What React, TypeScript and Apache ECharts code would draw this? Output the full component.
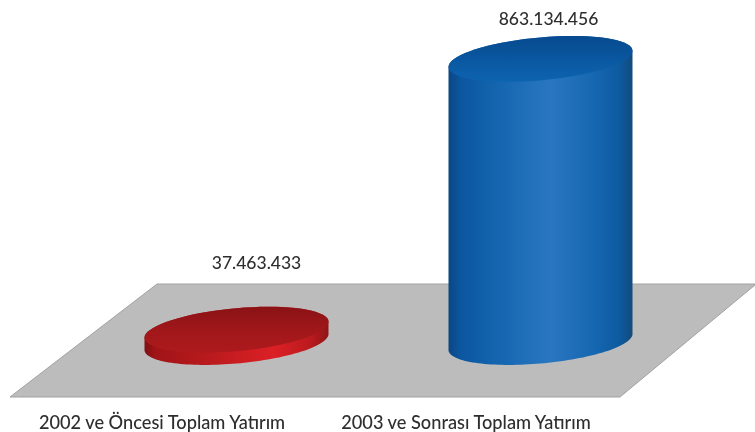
import React, { useEffect, useRef } from "react";
import * as echarts from "echarts";

const categories = ["2002 ve Öncesi Toplam Yatırım", "2003 ve Sonrası Toplam Yatırım"];
const values = [37463433, 863134456];
const valueLabels = ["37.463.433", "863.134.456"];
const sideStops = [
  [
    [0, "#7e1013"], [0.06, "#a01417"], [0.35, "#b91a1d"], [0.7, "#dc2026"], [0.9, "#bb1a1e"], [1, "#8f1417"],
  ],
  [
    [0, "#0c4684"], [0.07, "#0b57a0"], [0.3, "#1667b2"], [0.55, "#2a77c0"], [0.8, "#1566b0"], [0.93, "#0d5a9f"], [1, "#134a7c"],
  ],
];
const topStops = [
  [[0, "#8a1215"], [0.5, "#a0171a"], [1, "#ae1a1d"]],
  [[0, "#074a8e"], [0.55, "#0a58a2"], [1, "#0e64b0"]],
];

const RX = 92;
const RY = 21.5;
const SHEAR = 8;

function ellipse(cx: number, cy: number, from: number, to: number, n = 72) {
  const pts: number[][] = [];
  for (let i = 0; i <= n; i++) {
    const t = from + ((to - from) * i) / n;
    pts.push([cx + RX * Math.cos(t), cy + RY * Math.sin(t) - SHEAR * Math.cos(t)]);
  }
  return pts;
}
const grad = (stops: any[], vertical: boolean) => ({
  type: "linear",
  x: 0,
  y: 0,
  x2: vertical ? 0 : 1,
  y2: vertical ? 1 : 0,
  colorStops: stops.map(([offset, color]) => ({ offset, color })),
});

export default function App() {
  const ref = useRef<HTMLDivElement>(null);
  useEffect(() => {
    const chart = echarts.init(ref.current!, undefined, { renderer: "svg" });
    chart.setOption({
      animation: false,
      backgroundColor: "#ffffff",
      graphic: [
        {
          type: "polygon",
          z: 0,
          shape: { points: [[157, 284], [755, 284], [755, 285], [620, 397], [10, 397]] },
          style: { fill: "#bcbcbc", stroke: "#a2a2a2", lineWidth: 1 },
        },
      ],
      grid: [
        { left: 84.5, width: 608, top: 14, height: 328 },
        { left: 10, width: 608, top: 396, height: 1 },
      ],
      xAxis: [
        { type: "category", gridIndex: 0, data: categories, show: false },
        {
          type: "category",
          gridIndex: 1,
          data: categories,
          axisLine: { show: false },
          axisTick: { show: false },
          axisLabel: {
            interval: 0,
            margin: 16,
            fontFamily: "Lato",
            fontSize: 18.2,
            fontWeight: 500,
            color: "#2e2e2e",
          },
        },
      ],
      yAxis: [
        { type: "value", gridIndex: 0, min: 0, max: 1000000000, show: false },
        { type: "value", gridIndex: 1, show: false },
      ],
      series: [
        {
          type: "custom",
          xAxisIndex: 0,
          yAxisIndex: 0,
          data: values.map((v, i) => [i, v]),
          clip: false,
          renderItem: (params: any, api: any) => {
            const i = api.value(0);
            const [cx, baseY] = api.coord([i, 0]);
            const [, topY] = api.coord([i, api.value(1)]);
            const side = [
              ...ellipse(cx, topY, Math.PI, 2 * Math.PI, 36),
              ...ellipse(cx, baseY, 0, Math.PI),
            ];
            return {
              type: "group",
              children: [
                {
                  type: "polygon",
                  shape: { points: side },
                  style: { fill: grad(sideStops[i], false) },
                },
                {
                  type: "polygon",
                  shape: { points: ellipse(cx, topY, 0, 2 * Math.PI) },
                  style: { fill: grad(topStops[i], true) },
                },
                {
                  type: "text",
                  style: {
                    x: cx + (i === 0 ? 20 : 8),
                    y: Math.min(topY - 40, 262),
                    text: valueLabels[i],
                    align: "center",
                    verticalAlign: "middle",
                    font: "500 17.5px Lato",
                    fill: "#2e2e2e",
                  },
                },
              ],
            };
          },
        },
      ],
    });
    return () => chart.dispose();
  }, []);
  return (
    <div
      ref={ref}
      style={{ position: "absolute", left: 0, top: 0, width: 755, height: 432, filter: "blur(0.5px)" }}
    />
  );
}
